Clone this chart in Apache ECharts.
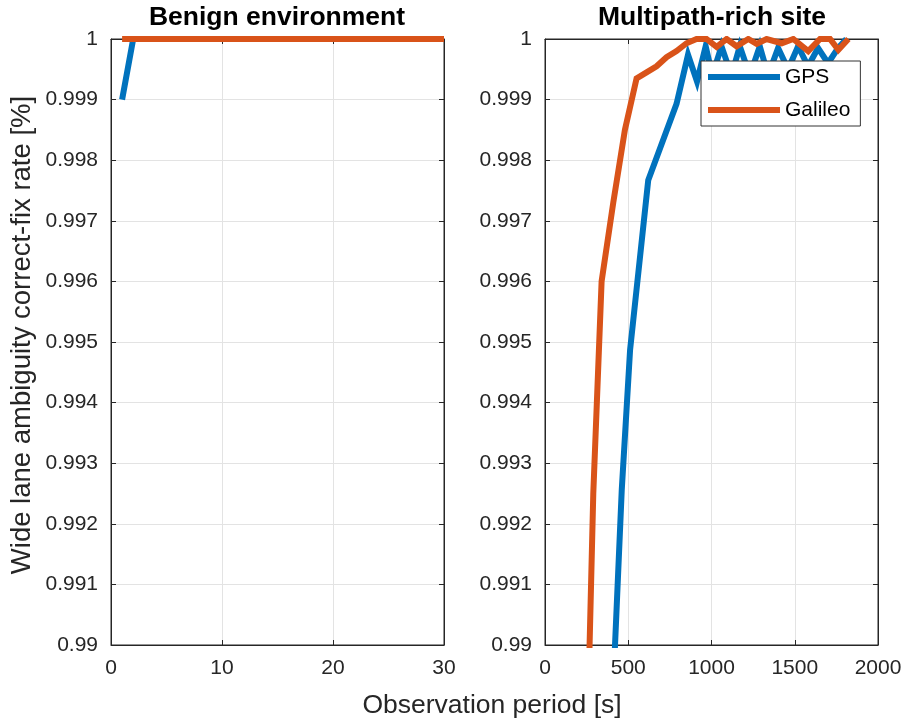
<!DOCTYPE html>
<html>
<head>
<meta charset="utf-8">
<script src="https://cdn.jsdelivr.net/npm/echarts@6/dist/echarts.min.js"></script>
<style>
html,body{margin:0;padding:0;background:#fff;}
#chart{width:914px;height:724px;}
</style>
</head>
<body>
<div id="chart"></div>
<script>
// ---- data ----
var panelTitles = ['Benign environment', 'Multipath-rich site'];
var seriesNames = ['GPS', 'Galileo'];
var yLabel = 'Wide lane ambiguity correct-fix rate [%]';
var xLabel = 'Observation period [s]';
var yTicks = [0.99, 0.991, 0.992, 0.993, 0.994, 0.995, 0.996, 0.997, 0.998, 0.999, 1];
var benignXTicks = [0, 10, 20, 30];
var multiXTicks = [0, 500, 1000, 1500, 2000];

var benignTime = [1,2,3,4,5,6,7,8,9,10,11,12,13,14,15,16,17,18,19,20,21,22,23,24,25,26,27,28,29,30];
var benignGPS = [0.999,1,1,1,1,1,1,1,1,1,1,1,1,1,1,1,1,1,1,1,1,1,1,1,1,1,1,1,1,1];
var benignGalileo = [1,1,1,1,1,1,1,1,1,1,1,1,1,1,1,1,1,1,1,1,1,1,1,1,1,1,1,1,1,1];

var multiGpsTime = [400, 461, 511, 620, 790, 859, 913, 965, 1005, 1060, 1120, 1170, 1230, 1290, 1340, 1400, 1460, 1520, 1580, 1640, 1700, 1760, 1810];
var multiGpsRate = [0.9887, 0.99256, 0.99487, 0.99767, 0.99893, 0.99974, 0.9993, 0.99988, 0.9994, 0.99988, 0.9994, 0.99988, 0.9994, 0.99988, 0.9994, 0.99985, 0.9995, 0.99988, 0.99955, 0.99985, 0.9996, 0.99985, 1];

var multiGalTime = [250, 290, 340, 410, 480, 550, 610, 670, 730, 790, 850, 910, 970, 1031, 1091, 1151, 1221, 1271, 1331, 1422, 1491, 1581, 1652, 1712, 1762, 1822];
var multiGalRate = [0.988, 0.9925, 0.996, 0.9973, 0.9985, 0.99935, 0.99945, 0.99955, 0.9997, 0.9998, 0.99993, 1, 1, 0.99987, 1, 0.99988, 1, 0.99992, 1, 0.99993, 1, 0.9998, 1, 1, 0.99982, 1];

// ---- styling ----
var C_GPS = '#0072BD', C_GAL = '#D95319';
var AX = '#262626', GRIDC = '#e3e3e3';
var FONT = '"Liberation Sans", Arial, Helvetica, sans-serif';

function pairs(xs, ys) { return xs.map(function (x, i) { return [x, ys[i]]; }); }
function fmtY(v) { return String(parseFloat(v.toFixed(3))); }
function fmtX(v) { return String(v); }

var grids = [
  {left: 111, top: 39, width: 333, height: 606},
  {left: 545, top: 39, width: 333, height: 606}
];
grids.forEach(function (g) { g.show = true; g.borderColor = AX; g.borderWidth = 1; g.backgroundColor = '#fff'; });

function xAx(gi, ticks, pos, labels) {
  return {
    type: 'value', gridIndex: gi, position: pos,
    min: ticks[0], max: ticks[ticks.length - 1], interval: ticks[1] - ticks[0],
    axisLine: {show: true, onZero: false, lineStyle: {color: AX, width: 1}},
    axisTick: {show: true, inside: true, length: 5, lineStyle: {color: AX}},
    axisLabel: {show: labels, color: AX, fontSize: 21, fontFamily: FONT, margin: 13, formatter: fmtX},
    splitLine: {show: labels, lineStyle: {color: GRIDC, width: 1}}
  };
}
function yAx(gi, pos, labels) {
  return {
    type: 'value', gridIndex: gi, position: pos,
    min: yTicks[0], max: yTicks[yTicks.length - 1], interval: 0.001,
    axisLine: {show: true, onZero: false, lineStyle: {color: AX, width: 1}},
    axisTick: {show: true, inside: true, length: 5, lineStyle: {color: AX}},
    axisLabel: {show: labels, color: AX, fontSize: 21, fontFamily: FONT, margin: 13, formatter: fmtY},
    splitLine: {show: labels, lineStyle: {color: GRIDC, width: 1}}
  };
}

function line(name, color, data, xi, yi) {
  return {
    name: name, type: 'line', data: data, xAxisIndex: xi, yAxisIndex: yi,
    showSymbol: false, symbol: 'none', clip: true,
    lineStyle: {color: color, width: 6, join: 'miter'}, itemStyle: {color: color}
  };
}

var option = {
  animation: false,
  backgroundColor: '#fff',
  grid: grids,
  xAxis: [
    xAx(0, benignXTicks, 'bottom', true), xAx(0, benignXTicks, 'top', false),
    xAx(1, multiXTicks, 'bottom', true), xAx(1, multiXTicks, 'top', false)
  ],
  yAxis: [
    yAx(0, 'left', true), yAx(0, 'right', false),
    yAx(1, 'left', true), yAx(1, 'right', false)
  ],
  legend: {
    data: seriesNames, orient: 'vertical', left: 701, top: 61,
    backgroundColor: '#fff', borderColor: '#333', borderWidth: 1,
    padding: [5, 10, 5, 7], itemGap: 11, itemWidth: 72, itemHeight: 6, itemTextGap: 6,
    icon: 'rect', z: 10,
    textStyle: {fontSize: 21, fontFamily: FONT, color: '#000', lineHeight: 22}
  },
  series: [
    line(seriesNames[0], C_GPS, pairs(benignTime, benignGPS), 0, 0),
    line(seriesNames[1], C_GAL, pairs(benignTime, benignGalileo), 0, 0),
    line(seriesNames[0], C_GPS, pairs(multiGpsTime, multiGpsRate), 2, 2),
    line(seriesNames[1], C_GAL, pairs(multiGalTime, multiGalRate), 2, 2)
  ],
  graphic: [
    {type: 'text', x: 277, y: 18, style: {text: panelTitles[0], font: 'bold 26.5px ' + FONT, fill: '#000', textAlign: 'center', textVerticalAlign: 'middle'}},
    {type: 'text', x: 712, y: 18, style: {text: panelTitles[1], font: 'bold 26.5px ' + FONT, fill: '#000', textAlign: 'center', textVerticalAlign: 'middle'}},
    {type: 'text', x: 492, y: 706, style: {text: xLabel, font: '26.5px ' + FONT, fill: AX, textAlign: 'center', textVerticalAlign: 'middle'}},
    {type: 'text', x: 22, y: 335, rotation: Math.PI / 2, style: {text: yLabel, font: '27.5px ' + FONT, fill: AX, textAlign: 'center', textVerticalAlign: 'middle'}}
  ]
};

var chart = echarts.init(document.getElementById('chart'), null, {renderer: 'canvas'});
chart.setOption(option);
</script>
</body>
</html>
